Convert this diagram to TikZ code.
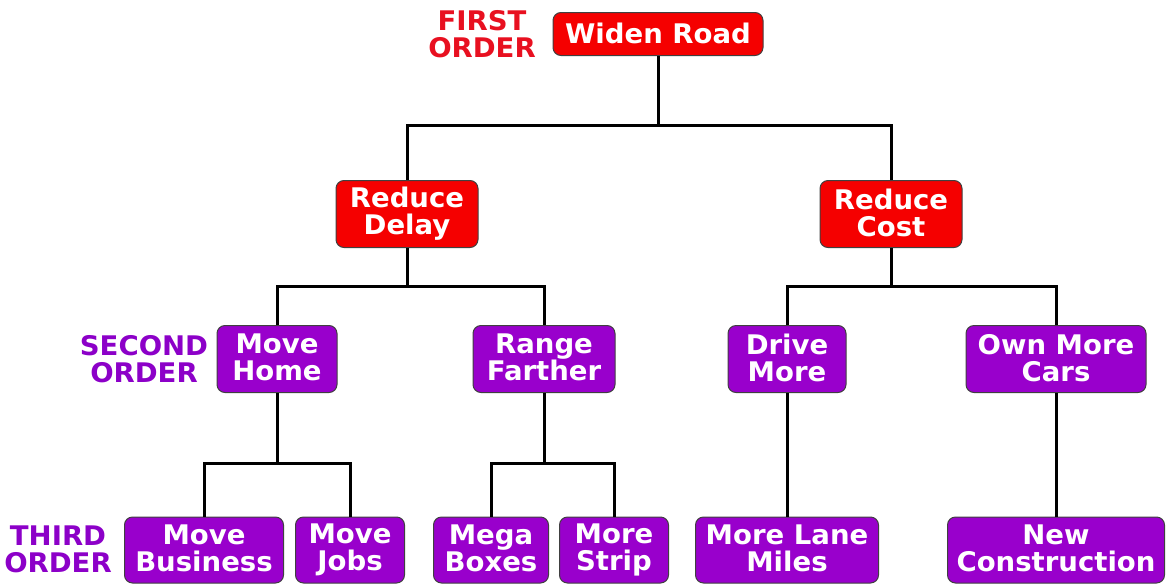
\documentclass[tikz,border=0pt]{standalone}
\usepackage{fontspec}
\setmainfont{DejaVu Sans}[FakeStretch=1.02]
\definecolor{boxred}{RGB}{245,0,0}
\definecolor{boxpurple}{RGB}{153,0,204}
\definecolor{lblred}{RGB}{232,16,32}
\definecolor{lblpurple}{RGB}{140,0,200}
\newcommand{\boxstrut}{\rule[-3pt]{0pt}{24pt}}
\tikzset{
  box/.style={draw=black!75, line width=1pt, rounded corners=8pt, align=center,
    text=white, inner sep=0pt, font=\fontsize{27}{27}\selectfont\bfseries,
    execute at begin node={\boxstrut}, execute at end node={\boxstrut}},
  redbox/.style={box, fill=boxred},
  purplebox/.style={box, fill=boxpurple},
  lbl/.style={align=center, inner sep=0pt, font=\fontsize{27}{27}\selectfont\bfseries,
    execute at begin node={\boxstrut}, execute at end node={\boxstrut}},
  conn/.style={line width=3pt, black}
}
\begin{document}
\begin{tikzpicture}[x=1pt,y=-1pt]
\useasboundingbox (0,0) rectangle (1167,584);
% first order
\node[redbox, minimum width=210pt, minimum height=43pt] (wr) at (658,34) {Widen Road};
\node[lbl, text=lblred] (l1) at (482,35) {FIRST\\ORDER};
\node[redbox, minimum width=142pt, minimum height=67pt] (rd) at (407,214) {Reduce\\Delay};
\node[redbox, minimum width=142pt, minimum height=67pt] (rc) at (891,214) {Reduce\\Cost};
% second order
\node[lbl, text=lblpurple] (l2) at (144,360) {SECOND\\ORDER};
\node[purplebox, minimum width=120pt, minimum height=67pt] (mh) at (277,359) {Move\\Home};
\node[purplebox, minimum width=142pt, minimum height=67pt] (rf) at (544,359) {Range\\Farther};
\node[purplebox, minimum width=118pt, minimum height=67pt] (dm) at (787,359) {Drive\\More};
\node[purplebox, minimum width=180pt, minimum height=67pt] (oc) at (1056,359) {Own More\\Cars};
% third order
\node[lbl, text=lblpurple] (l3) at (58,551) {THIRD\\ORDER};
\node[purplebox, minimum width=159pt, minimum height=66pt] (mb) at (204,550) {Move\\Business};
\node[purplebox, minimum width=109pt, minimum height=66pt] (mj) at (350,550) {Move\\Jobs};
\node[purplebox, minimum width=115pt, minimum height=66pt] (mg) at (491,550) {Mega\\Boxes};
\node[purplebox, minimum width=109pt, minimum height=66pt] (ms) at (614,550) {More\\Strip};
\node[purplebox, minimum width=183pt, minimum height=66pt] (ml) at (787,550) {More Lane\\Miles};
\node[purplebox, minimum width=217pt, minimum height=66pt] (nc) at (1056,550) {New\\Construction};
% junctions
\coordinate (j1) at (658,125);
\coordinate (j2) at (407,286);
\coordinate (j3) at (891,286);
\coordinate (j4) at (277,463);
\coordinate (j5) at (544,463);
% connectors
\draw[conn] (wr.south) -- (j1);
\draw[conn] (j1) -| (rd.north);
\draw[conn] (j1) -| (rc.north);
\draw[conn] (rd.south) -- (j2);
\draw[conn] (j2) -| (mh.north);
\draw[conn] (j2) -| (rf.north);
\draw[conn] (rc.south) -- (j3);
\draw[conn] (j3) -| (dm.north);
\draw[conn] (j3) -| (oc.north);
\draw[conn] (mh.south) -- (j4);
\draw[conn] (j4) -| (mb.north);
\draw[conn] (j4) -| (mj.north);
\draw[conn] (rf.south) -- (j5);
\draw[conn] (j5) -| (mg.north);
\draw[conn] (j5) -| (ms.north);
\draw[conn] (dm.south) -- (ml.north);
\draw[conn] (oc.south) -- (nc.north);
\end{tikzpicture}
\end{document}
